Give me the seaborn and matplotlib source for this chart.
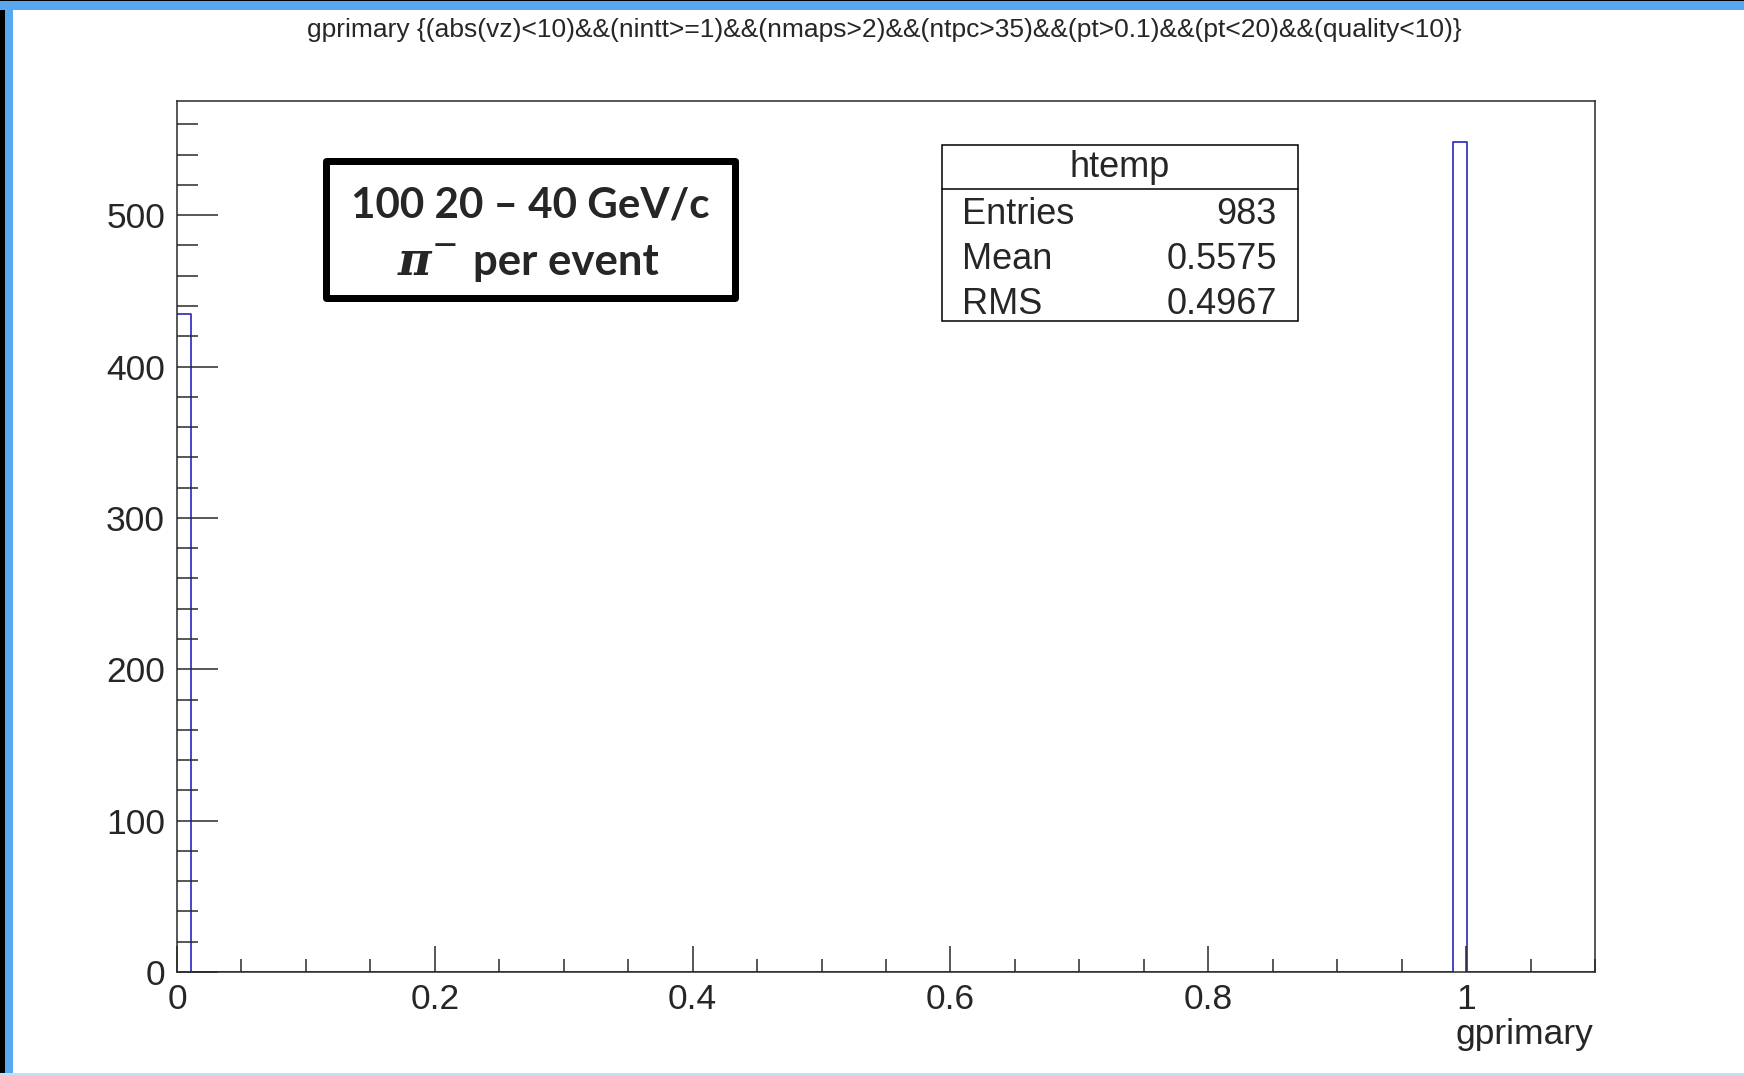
import numpy as np
import pandas as pd
import matplotlib
matplotlib.use("Agg")
import matplotlib.pyplot as plt
import seaborn as sns
from matplotlib.patches import Rectangle
from matplotlib.lines import Line2D
from matplotlib.ticker import MultipleLocator

# Histogram content: gprimary flag values and their entry counts
gprimary_values = [0.0, 1.0]
gprimary_counts = [435, 548]
n_bins = 100
x_range = (0.0, 1.1)

x_ticks = [0.0, 0.2, 0.4, 0.6, 0.8, 1.0]
x_tick_labels = ["0", "0.2", "0.4", "0.6", "0.8", "1"]
y_ticks = [0, 100, 200, 300, 400, 500]
y_tick_labels = ["0", "100", "200", "300", "400", "500"]

stats_title = "htemp"
stats_labels = ["Entries", "Mean", "RMS"]
stats_values = ["983", "0.5575", "0.4967"]

title_text = ("gprimary {(abs(vz)<10)&&(nintt>=1)&&(nmaps>2)&&(ntpc>35)"
              "&&(pt>0.1)&&(pt<20)&&(quality<10)}")
note_line1 = "100 20 \u2013 40 GeV/c"
note_line2 = "per event"

sns.set_style("ticks")
plt.rcParams["font.family"] = ["Liberation Sans", "DejaVu Sans"]

W, H = 1744, 1075
BLUE = "#3838c0"
FRAME = "#58a8f0"
AXC = "#2a2a2a"


def fx(x):
    return x / W


def fy(y):
    return 1 - y / H


fig = plt.figure(figsize=(W / 100, H / 100), dpi=100)
fig.patch.set_facecolor("white")

# canvas frame strips
fig.patches.append(Rectangle((0, 0), fx(5), 1, transform=fig.transFigure,
                             facecolor="black", edgecolor="none", zorder=0))
fig.patches.append(Rectangle((fx(5), 0), fx(8), 1, transform=fig.transFigure,
                             facecolor=FRAME, edgecolor="none", zorder=0))
fig.patches.append(Rectangle((0, fy(10)), 1, 10 / H, transform=fig.transFigure,
                             facecolor=FRAME, edgecolor="none", zorder=0))
fig.patches.append(Rectangle((0, fy(1)), 1, 1 / H, transform=fig.transFigure,
                             facecolor="black", edgecolor="none", zorder=0))
fig.patches.append(Rectangle((0, 0), 1, 2 / H, transform=fig.transFigure,
                             facecolor="#bfe2fb", edgecolor="none", zorder=0))

ax = fig.add_axes([fx(177), fy(972), (1595 - 177) / W, (972 - 101) / H])

df = pd.DataFrame({"gprimary": gprimary_values, "entries": gprimary_counts})
bin_width = (x_range[1] - x_range[0]) / n_bins
sns.histplot(data=df, x="gprimary", weights="entries", binwidth=bin_width,
             binrange=x_range, element="step", fill=False, color=BLUE,
             linewidth=1.3, ax=ax)

ax.set_xlim(*x_range)
ax.set_ylim(0, max(gprimary_counts) * 1.05)
ax.set_axisbelow(False)

ax.set_xticks(x_ticks, x_tick_labels)
ax.set_yticks(y_ticks, y_tick_labels)
ax.xaxis.set_minor_locator(MultipleLocator(0.05))
ax.yaxis.set_minor_locator(MultipleLocator(20))

ax.tick_params(axis="x", which="major", direction="in", length=18.7, width=1.1,
               labelsize=25.5, pad=8.0, color=AXC, top=False)
ax.tick_params(axis="x", which="minor", direction="in", length=9.4, width=1.1,
               color=AXC, top=False)
ax.tick_params(axis="y", which="major", direction="in", length=29.5, width=1.1,
               labelsize=25.5, pad=8.6, color=AXC, right=False)
ax.tick_params(axis="y", which="minor", direction="in", length=15.1, width=1.1,
               color=AXC, right=False)
for s in ax.spines.values():
    s.set_visible(True)
    s.set_linewidth(1.1)
    s.set_color(AXC)

ax.set_ylabel("")
ax.set_xlabel("gprimary", fontsize=25.5, ha="right")
ax.xaxis.set_label_coords(1 - 2 / 1418, -0.053)

# title
fig.text(fx(884), fy(36.5), title_text, ha="center", va="baseline", fontsize=19)

# statistics box
sx0, sx1, sy0, sy1 = 942.3, 1297.7, 145, 320.7
fig.patches.append(Rectangle((fx(sx0), fy(sy1)), (sx1 - sx0) / W, (sy1 - sy0) / H,
                             transform=fig.transFigure, facecolor="white",
                             edgecolor="black", linewidth=1.1, zorder=3))
fig.lines.append(Line2D([fx(sx0), fx(sx1)], [fy(189.3), fy(189.3)],
                        transform=fig.transFigure, color="black", linewidth=1.1,
                        zorder=4))
fig.text(fx((sx0 + sx1) / 2), fy(176.7), stats_title, ha="center", va="baseline",
         fontsize=26, zorder=5)
for lab, val, base in zip(stats_labels, stats_values, [224, 269, 313.5]):
    fig.text(fx(961.7), fy(base), lab, ha="left", va="baseline", fontsize=26, zorder=5)
    fig.text(fx(1276.7), fy(base), val, ha="right", va="baseline", fontsize=26, zorder=5)

# annotation box
bw = 7
bx0, bx1, by0, by1 = 322.7 + bw / 2, 738 - bw / 2, 158 + bw / 2, 301.7 - bw / 2
fig.patches.append(Rectangle((fx(bx0), fy(by1)), (bx1 - bx0) / W, (by1 - by0) / H,
                             transform=fig.transFigure, facecolor="white",
                             edgecolor="black", linewidth=bw * 0.72,
                             joinstyle="round", zorder=3))
fig.text(fx(530.5), fy(217.5), note_line1, ha="center", va="baseline",
         fontsize=30.3, family=["Lato", "DejaVu Sans"], weight="bold", zorder=5)
fig.text(fx(398), fy(275), "\u03c0", ha="left", va="baseline", fontsize=33,
         family=["DejaVu Serif"], style="italic", weight="bold", zorder=5)
fig.text(fx(432), fy(246), "\u2212", ha="left", va="center", fontsize=23,
         family=["DejaVu Sans"], zorder=5)
fig.text(fx(473), fy(275), note_line2, ha="left", va="baseline",
         fontsize=31.5, family=["Lato", "DejaVu Sans"], weight="bold", zorder=5)

fig.savefig("out.png", dpi=100)
